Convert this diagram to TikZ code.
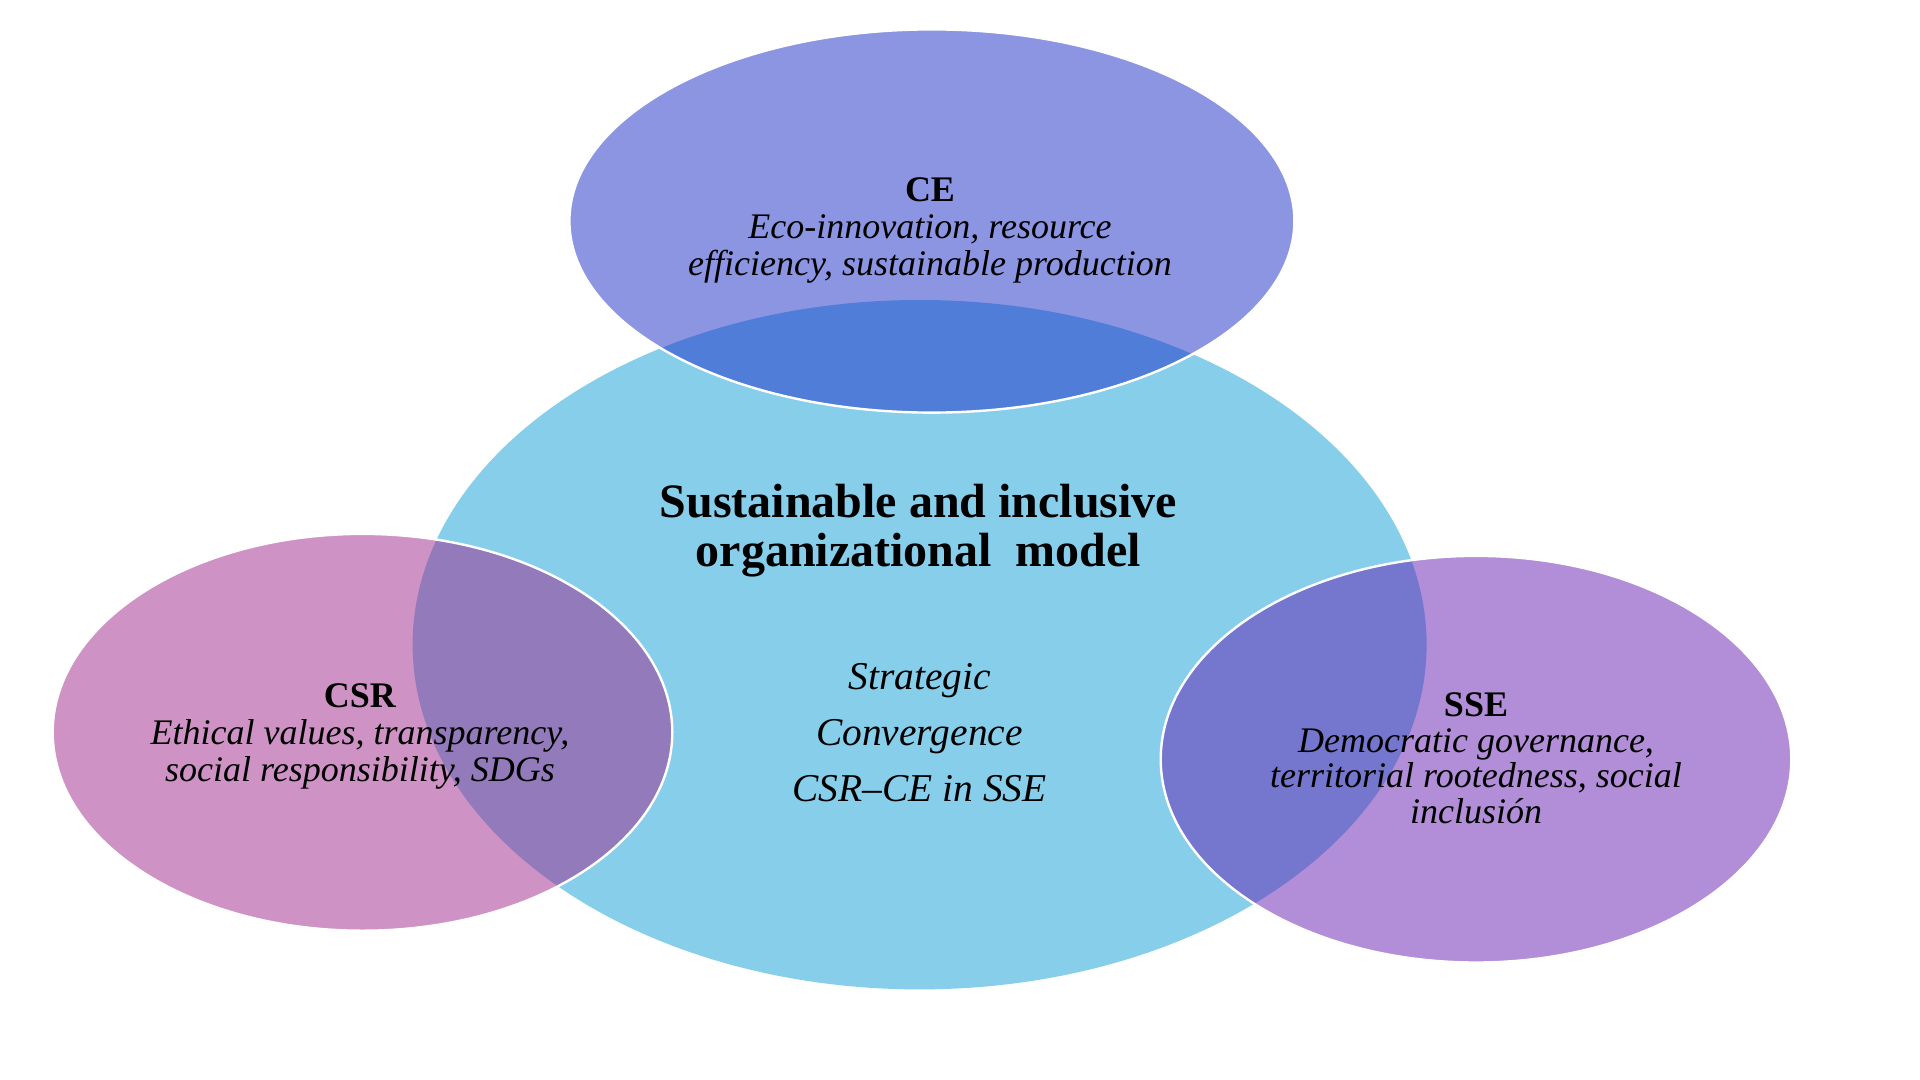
\documentclass[tikz,border=0pt]{standalone}
\usepackage{fontspec}
\setmainfont{Liberation Serif}
\definecolor{centralcol}{RGB}{135,206,235}
\definecolor{cecol}{RGB}{26,45,199}
\definecolor{csrcol}{RGB}{159,39,141}
\definecolor{ssecol}{RGB}{101,31,177}
\begin{document}
\begin{tikzpicture}[x=0.5pt,y=-0.5pt,
  outer/.style={draw=white, line width=1.2pt, fill opacity=0.5, draw opacity=1},
  txt/.style={align=center, inner sep=0pt},
  ttl/.style={txt, font=\fontsize{24}{24.2}\selectfont\bfseries},
  mid/.style={txt, font=\fontsize{19.7}{27.9}\selectfont\itshape},
  cetxt/.style={txt, font=\fontsize{18}{18.4}\selectfont},
  csrtxt/.style={txt, font=\fontsize{18}{18.7}\selectfont},
  ssetxt/.style={txt, font=\fontsize{18}{17.85}\selectfont}]
\useasboundingbox (0,0) rectangle (1920,1080);
\fill[white] (0,0) rectangle (1920,1080);
% ellipses
\fill[centralcol] (919.6,644.7) ellipse [x radius=507, y radius=344.7];
\path[outer, fill=cecol] (931.9,221) ellipse [x radius=362.5, y radius=191.6];
\path[outer, fill=csrcol] (362.5,732.3) ellipse [x radius=309.8, y radius=198.4];
\path[outer, fill=ssecol] (1476,759.2) ellipse [x radius=315.3, y radius=203.3];
% texts
\node[cetxt] (ce) at (930,230.2) {\textbf{CE}\\\textit{Eco-innovation, resource}\\\textit{efficiency, sustainable production}};
\node[ttl] (title) at (918.5,530.5) {Sustainable and inclusive\\organizational\ \ model};
\node[mid] (conv) at (919.5,732.5) {Strategic\\Convergence\\CSR–CE in SSE};
\node[csrtxt] (csr) at (360,736.4) {\textbf{CSR}\\\textit{Ethical values, transparency,}\\\textit{social responsibility, SDGs}};
\node[ssetxt] (sse) at (1476,758.4) {\textbf{SSE}\\\textit{Democratic governance,}\\\textit{territorial rootedness, social}\\\textit{inclusión}};
\end{tikzpicture}
\end{document}
